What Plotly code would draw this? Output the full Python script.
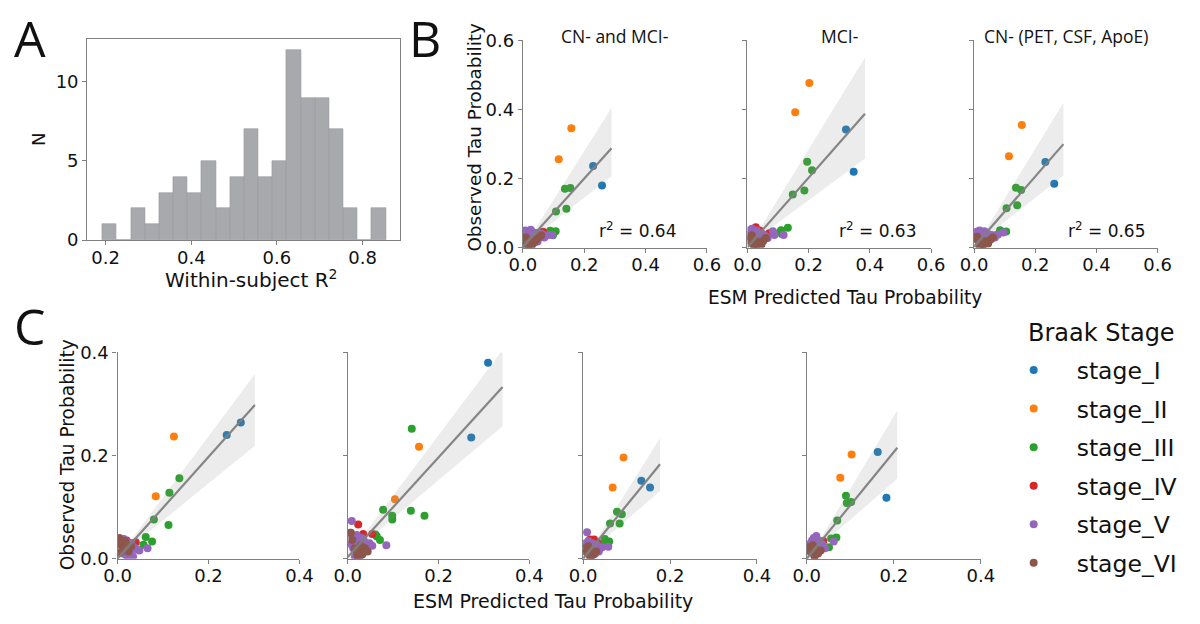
import plotly.graph_objects as go

STAGES = ["stage_I", "stage_II", "stage_III", "stage_IV", "stage_V", "stage_VI"]
COLORS = ["#1f77b4", "#ff7f0e", "#2ca02c", "#d62728", "#9467bd", "#8c564b"]

# ---------------- Panel A: histogram of within-subject R^2 ----------------
hist_centers = [0.2090, 0.2421, 0.2752, 0.3083, 0.3414, 0.3745, 0.4076, 0.4407, 0.4738, 0.5069,
                0.5400, 0.5731, 0.6062, 0.6393, 0.6724, 0.7055, 0.7386, 0.7717, 0.8048, 0.8379]
hist_counts = [1, 0, 2, 1, 3, 4, 3, 5, 2, 4, 7, 4, 5, 12, 9, 9, 7, 2, 0, 2]
hist_bin_width = 0.0331

# ---------------- Panel B (three subgroups) ----------------
b_titles = ["CN- and MCI-", "MCI-", "CN- (PET, CSF, ApoE)"]
b_r2 = ["0.64", "0.63", "0.65"]

b1_x = [0.229, 0.258,
        0.158, 0.117,
        0.137, 0.155, 0.108, 0.142, 0.089, 0.107, 0.098, 0.080,
        0.045, 0.058, 0.066,
        0.008, 0.012, 0.018, 0.022, 0.026, 0.030, 0.034, 0.040, 0.045, 0.050, 0.056, 0.062, 0.070, 0.080, 0.096, 0.015, 0.024, 0.036, 0.048, 0.020,
        0.005, 0.010, 0.016, 0.022, 0.030, 0.038, 0.044, 0.052, 0.060, 0.012]
b1_y = [0.237, 0.180,
        0.346, 0.256,
        0.171, 0.173, 0.105, 0.113, 0.049, 0.048, 0.036, 0.040,
        0.042, 0.036, 0.046,
        0.050, 0.042, 0.047, 0.036, 0.052, 0.030, 0.044, 0.038, 0.028, 0.042, 0.034, 0.040, 0.030, 0.036, 0.037, 0.022, 0.014, 0.020, 0.018, 0.006,
        0.022, 0.030, 0.012, 0.020, 0.008, 0.016, 0.024, 0.030, 0.036, 0.004]
b1_stage = ["stage_I"] * 2 + ["stage_II"] * 2 + ["stage_III"] * 8 + ["stage_IV"] * 3 + ["stage_V"] * 20 + ["stage_VI"] * 10

b2_x = [0.322, 0.347,
        0.202, 0.156,
        0.195, 0.211, 0.186, 0.148, 0.132, 0.110, 0.106, 0.112,
        0.027, 0.071, 0.040,
        0.005, 0.010, 0.015, 0.020, 0.025, 0.030, 0.035, 0.042, 0.050, 0.058, 0.066, 0.083, 0.088, 0.118, 0.012, 0.022, 0.032, 0.045, 0.062,
        0.004, 0.010, 0.016, 0.024, 0.030, 0.038, 0.046, 0.052, 0.060, 0.014, 0.022]
b2_y = [0.342, 0.220,
        0.477, 0.392,
        0.249, 0.224, 0.166, 0.154, 0.058, 0.051, 0.045, 0.040,
        0.059, 0.042, 0.050,
        0.050, 0.040, 0.055, 0.046, 0.035, 0.050, 0.042, 0.030, 0.040, 0.034, 0.028, 0.048, 0.037, 0.037, 0.028, 0.022, 0.018, 0.025, 0.030,
        0.020, 0.030, 0.012, 0.022, 0.008, 0.016, 0.010, 0.020, 0.028, 0.036, 0.004]
b2_stage = ["stage_I"] * 2 + ["stage_II"] * 2 + ["stage_III"] * 8 + ["stage_IV"] * 3 + ["stage_V"] * 19 + ["stage_VI"] * 11

b3_x = [0.233, 0.262,
        0.156, 0.114,
        0.137, 0.154, 0.106, 0.141, 0.085, 0.105, 0.078, 0.092,
        0.040, 0.055,
        0.008, 0.014, 0.018, 0.024, 0.028, 0.034, 0.040, 0.046, 0.052, 0.060, 0.068, 0.076, 0.096, 0.012, 0.022, 0.030, 0.044,
        0.004, 0.010, 0.016, 0.024, 0.030, 0.038, 0.046, 0.054, 0.062, 0.018]
b3_y = [0.248, 0.185,
        0.355, 0.265,
        0.174, 0.167, 0.114, 0.123, 0.051, 0.047, 0.038, 0.046,
        0.040, 0.036,
        0.046, 0.038, 0.050, 0.042, 0.034, 0.048, 0.030, 0.040, 0.026, 0.036, 0.030, 0.038, 0.044, 0.024, 0.016, 0.010, 0.020,
        0.026, 0.032, 0.014, 0.022, 0.008, 0.018, 0.012, 0.024, 0.030, 0.004]
b3_stage = ["stage_I"] * 2 + ["stage_II"] * 2 + ["stage_III"] * 8 + ["stage_IV"] * 2 + ["stage_V"] * 17 + ["stage_VI"] * 10

# ---------------- Panel C (four subjects) ----------------
c1_x = [0.240, 0.271,
        0.124, 0.084,
        0.136, 0.114, 0.080, 0.112, 0.062, 0.076, 0.057,
        0.020, 0.030, 0.040,
        0.006, 0.010, 0.014, 0.018, 0.022, 0.026, 0.030, 0.036, 0.042, 0.048, 0.066, 0.012, 0.020, 0.028, 0.034,
        0.004, 0.008, 0.012, 0.018, 0.024, 0.030, 0.006, 0.016]
c1_y = [0.240, 0.264,
        0.237, 0.121,
        0.156, 0.128, 0.076, 0.065, 0.042, 0.033, 0.027,
        0.035, 0.030, 0.032,
        0.036, 0.030, 0.038, 0.024, 0.032, 0.020, 0.028, 0.022, 0.018, 0.016, 0.020, 0.010, 0.006, 0.012, 0.004,
        0.040, 0.026, 0.018, 0.030, 0.014, 0.024, 0.012, 0.034]
c1_stage = ["stage_I"] * 2 + ["stage_II"] * 2 + ["stage_III"] * 7 + ["stage_IV"] * 3 + ["stage_V"] * 15 + ["stage_VI"] * 8

c2_x = [0.309, 0.272,
        0.157, 0.104,
        0.141, 0.078, 0.139, 0.169, 0.098, 0.098, 0.064, 0.071, 0.061,
        0.023, 0.034, 0.054,
        0.009, 0.005, 0.010, 0.015, 0.020, 0.025, 0.030, 0.036, 0.042, 0.048, 0.054, 0.085, 0.012, 0.020, 0.028, 0.038, 0.016, 0.008,
        0.007, 0.010, 0.015, 0.020, 0.026, 0.032, 0.038, 0.044, 0.028, 0.022]
c2_y = [0.380, 0.235,
        0.217, 0.115,
        0.252, 0.095, 0.093, 0.083, 0.083, 0.076, 0.043, 0.036, 0.047,
        0.066, 0.048, 0.048,
        0.073, 0.050, 0.042, 0.036, 0.046, 0.030, 0.040, 0.034, 0.022, 0.030, 0.025, 0.026, 0.020, 0.012, 0.006, 0.014, 0.004, 0.028,
        0.050, 0.036, 0.020, 0.012, 0.016, 0.008, 0.020, 0.014, 0.026, 0.004]
c2_stage = ["stage_I"] * 2 + ["stage_II"] * 2 + ["stage_III"] * 9 + ["stage_IV"] * 3 + ["stage_V"] * 18 + ["stage_VI"] * 10

c3_x = [0.134, 0.154,
        0.093, 0.068,
        0.078, 0.089, 0.062, 0.084, 0.050, 0.060, 0.044,
        0.016, 0.025, 0.032,
        0.009, 0.006, 0.012, 0.018, 0.022, 0.026, 0.032, 0.038, 0.044, 0.058, 0.014, 0.020, 0.028, 0.036,
        0.004, 0.008, 0.012, 0.018, 0.024, 0.030, 0.016]
c3_y = [0.151, 0.138,
        0.196, 0.138,
        0.091, 0.086, 0.068, 0.068, 0.038, 0.033, 0.030,
        0.037, 0.037, 0.032,
        0.051, 0.030, 0.034, 0.026, 0.030, 0.020, 0.026, 0.018, 0.022, 0.023, 0.012, 0.006, 0.010, 0.014,
        0.020, 0.012, 0.024, 0.016, 0.008, 0.014, 0.004]
c3_stage = ["stage_I"] * 2 + ["stage_II"] * 2 + ["stage_III"] * 7 + ["stage_IV"] * 3 + ["stage_V"] * 14 + ["stage_VI"] * 7

c4_x = [0.163, 0.183,
        0.103, 0.077,
        0.090, 0.092, 0.102, 0.070, 0.056, 0.068, 0.051,
        0.030, 0.038,
        0.022, 0.012, 0.062, 0.006, 0.016, 0.020, 0.026, 0.030, 0.036, 0.042, 0.010, 0.018, 0.028,
        0.004, 0.008, 0.014, 0.020, 0.026, 0.032, 0.018]
c4_y = [0.207, 0.118,
        0.202, 0.157,
        0.122, 0.108, 0.110, 0.074, 0.039, 0.041, 0.022,
        0.030, 0.034,
        0.044, 0.035, 0.033, 0.028, 0.040, 0.030, 0.036, 0.024, 0.028, 0.020, 0.012, 0.006, 0.014,
        0.022, 0.014, 0.026, 0.018, 0.010, 0.016, 0.004]
c4_stage = ["stage_I"] * 2 + ["stage_II"] * 2 + ["stage_III"] * 7 + ["stage_IV"] * 2 + ["stage_V"] * 13 + ["stage_VI"] * 7

# regression lines (start/end) and CI band edges
fit_x = {"b1": [0.0, 0.289], "b2": [0.0, 0.384], "b3": [0.0, 0.292],
         "c1": [0.0, 0.302], "c2": [0.0, 0.341], "c3": [0.0, 0.177], "c4": [0.0, 0.208]}
fit_y = {"b1": [0.003, 0.288], "b2": [0.002, 0.388], "b3": [0.003, 0.300],
         "c1": [0.0, 0.298], "c2": [0.003, 0.333], "c3": [0.0, 0.183], "c4": [0.0, 0.215]}
band_hi = {"b1": [0.014, 0.040, 0.405], "b2": [0.014, 0.040, 0.551], "b3": [0.014, 0.040, 0.420],
           "c1": [0.010, 0.036, 0.358], "c2": [0.012, 0.040, 0.405], "c3": [0.008, 0.036, 0.234], "c4": [0.008, 0.036, 0.288]}
band_lo = {"b1": [-0.008, 0.026, 0.207], "b2": [-0.008, 0.026, 0.258], "b3": [-0.008, 0.026, 0.209],
           "c1": [-0.008, 0.024, 0.219], "c2": [-0.006, 0.026, 0.257], "c3": [-0.008, 0.024, 0.131], "c4": [-0.008, 0.024, 0.155]}
band_mid_x = 0.03

W, H = 1200, 624
def px(x):
    return x / W
def py(y):
    return 1 - y / H

FONT = "DejaVu Sans"
LETTER_FONT = "Open Sans"
AXIS_COLOR = "#808080"
TICK_FONT = dict(family=FONT, size=18, color="#111111")

fig = go.Figure()

# Panel A histogram
fig.add_trace(go.Bar(x=hist_centers, y=hist_counts, width=hist_bin_width,
                     marker=dict(color="#a8a9ad", line=dict(color="#9a9b9f", width=0.6)),
                     showlegend=False, xaxis="x", yaxis="y"))

panels = [
    ("b1", b1_x, b1_y, b1_stage, "x2", "y2"),
    ("b2", b2_x, b2_y, b2_stage, "x3", "y3"),
    ("b3", b3_x, b3_y, b3_stage, "x4", "y4"),
    ("c1", c1_x, c1_y, c1_stage, "x5", "y5"),
    ("c2", c2_x, c2_y, c2_stage, "x6", "y6"),
    ("c3", c3_x, c3_y, c3_stage, "x7", "y7"),
    ("c4", c4_x, c4_y, c4_stage, "x8", "y8"),
]

for pi, (key, xs, ys, ss, xa, ya) in enumerate(panels):
    for si, st in enumerate(STAGES):
        px_ = [x for x, s in zip(xs, ss) if s == st]
        py_ = [y for y, s in zip(ys, ss) if s == st]
        fig.add_trace(go.Scatter(x=px_, y=py_, mode="markers", name=st, legendgroup=st,
                                 showlegend=(pi == 3),
                                 marker=dict(color=COLORS[si], size=8, line=dict(width=0)),
                                 xaxis=xa, yaxis=ya))
    bx = [fit_x[key][0], band_mid_x, fit_x[key][1]]
    fig.add_trace(go.Scatter(x=bx + bx[::-1], y=band_hi[key] + band_lo[key][::-1],
                             fill="toself", fillcolor="rgba(140,140,140,0.17)",
                             line=dict(width=0), mode="lines", showlegend=False,
                             hoverinfo="skip", xaxis=xa, yaxis=ya))
    fig.add_trace(go.Scatter(x=fit_x[key], y=fit_y[key], mode="lines",
                             line=dict(color="rgba(128,128,128,0.95)", width=2.2),
                             showlegend=False, xaxis=xa, yaxis=ya))

def ax(domain, rng, tickvals, anchor, showlabels=True, mirror=False, standoff=0):
    return dict(domain=domain, range=rng, tickvals=tickvals, anchor=anchor,
                showgrid=False, zeroline=False, showline=True, linecolor=AXIS_COLOR,
                linewidth=1.2, mirror=mirror, ticks="outside", ticklen=4, tickwidth=1.2,
                tickcolor=AXIS_COLOR, showticklabels=showlabels, tickfont=TICK_FONT,
                ticklabelstandoff=standoff, fixedrange=True)

layout = dict(
    width=W, height=H, margin=dict(l=0, r=0, t=0, b=0),
    paper_bgcolor="white", plot_bgcolor="rgba(0,0,0,0)", bargap=0,
    font=dict(family=FONT, color="#111111"),
)

# Panel A axes
layout["xaxis"] = ax([px(75), px(395)], [0.157, 0.887], [0.2, 0.4, 0.6, 0.8], "y", mirror=True, standoff=-3)
layout["yaxis"] = ax([py(237), py(29)], [0, 12.7], [0, 5, 10], "x", mirror=True)

b_x_dom = [(521, 709.5), (751, 939), (983, 1171)]
b_y_dom = [py(245), py(30.5)]
for i, (l, r) in enumerate(b_x_dom):
    n = i + 2
    layout[f"xaxis{n}"] = ax([px(l), px(r)], [0, 0.6], [0, 0.2, 0.4, 0.6], f"y{n}", standoff=-3)
    layout[f"yaxis{n}"] = ax(b_y_dom, [0, 0.6], [0, 0.2, 0.4, 0.6], f"x{n}", showlabels=(i == 0))
    layout[f"xaxis{n}"]["tickformat"] = ".1f"
    layout[f"yaxis{n}"]["tickformat"] = ".1f"

c_x_dom = [(106, 292.3), (341.7, 527.7), (582.7, 760.7), (811.7, 990)]
c_y_dom = [py(566.7), py(353.3)]
for i, (l, r) in enumerate(c_x_dom):
    n = i + 5
    layout[f"xaxis{n}"] = ax([px(l), px(r)], [0, 0.4], [0, 0.2, 0.4], f"y{n}", standoff=-3)
    layout[f"yaxis{n}"] = ax(c_y_dom, [0, 0.4], [0, 0.2, 0.4], f"x{n}", showlabels=(i == 0))
    layout[f"xaxis{n}"]["tickformat"] = ".1f"
    layout[f"yaxis{n}"]["tickformat"] = ".1f"

layout["legend"] = dict(
    x=px(1000), y=py(349), xanchor="left", yanchor="top",
    font=dict(family=FONT, size=23.5, color="#111111"),
    tracegroupgap=5, itemwidth=76, bgcolor="rgba(0,0,0,0)",
)

annotations = []
def text(x, y, s, size, family=FONT, angle=0, xanchor="center"):
    annotations.append(dict(x=px(x), y=py(y), xref="paper", yref="paper", text=s,
                            showarrow=False, xanchor=xanchor, yanchor="middle",
                            textangle=angle, font=dict(family=family, size=size, color="#111111")))

# panel letters
text(16, 28, "A", 50, LETTER_FONT)
text(421, 28, "B", 50, LETTER_FONT)
text(16, 326, "C", 50, LETTER_FONT)
# panel A labels
text(25, 133, "N", 18, angle=-90)
text(243, 277, "Within-subject R<sup>2</sup>", 20)
# panel B titles
for (l, r), t in zip(b_x_dom, b_titles):
    text((l + r) / 2, 26, t, 17.5, LETTER_FONT)
# r^2 texts
r2_left = [597, 843, 1077]
for xl, r2 in zip(r2_left, b_r2):
    text(xl, 227, f"r<sup>2</sup> = {r2}", 17, xanchor="left")
# panel B axis labels
text(472, 130, "Observed Tau Probability", 18.4, angle=-90)
text(851, 296, "ESM Predicted Tau Probability", 18.6)
# panel C axis labels
text(55, 459, "Observed Tau Probability", 18.6, angle=-90)
text(552, 611, "ESM Predicted Tau Probability", 19)
# legend title
text(1036, 333, "Braak Stage", 24, xanchor="left")

layout["annotations"] = annotations
fig.update_layout(layout)
fig.write_html("out.html")
